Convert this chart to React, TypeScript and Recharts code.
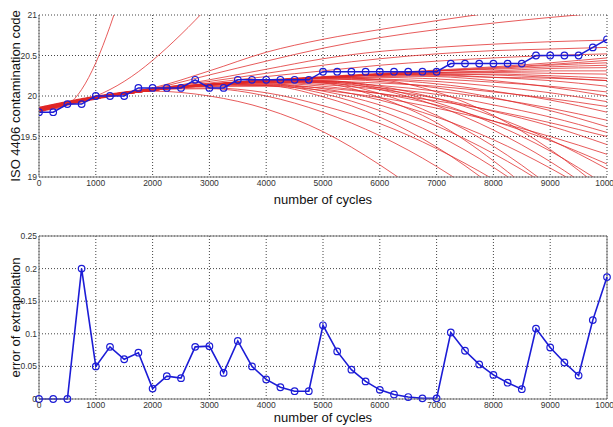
import { CartesianGrid, Label, Line, LineChart, ReferenceLine, XAxis, YAxis } from "recharts";

// measured samples (every 250 cycles)
const cycles = [
  0, 250, 500, 750, 1000, 1250, 1500, 1750, 2000, 2250, 2500, 2750, 3000, 3250, 3500, 3750, 4000, 4250, 4500, 4750,
  5000, 5250, 5500, 5750, 6000, 6250, 6500, 6750, 7000, 7250, 7500, 7750, 8000, 8250, 8500, 8750, 9000, 9250, 9500,
  9750, 10000
];
const isoCode = [
  19.8, 19.8, 19.9, 19.9, 20, 20, 20, 20.1, 20.1, 20.1, 20.1, 20.2, 20.1, 20.1, 20.2, 20.2, 20.2, 20.2, 20.2, 20.2,
  20.3, 20.3, 20.3, 20.3, 20.3, 20.3, 20.3, 20.3, 20.3, 20.4, 20.4, 20.4, 20.4, 20.4, 20.4, 20.5, 20.5, 20.5, 20.5,
  20.6, 20.7
];
const extrapolationError = [
  0, 0, 0, 0.2, 0.05, 0.08, 0.061, 0.071, 0.016, 0.035, 0.032, 0.08, 0.081, 0.04, 0.089, 0.05, 0.03, 0.018, 0.012,
  0.012, 0.113, 0.073, 0.045, 0.027, 0.014, 0.007, 0.003, 0.001, 0.001, 0.102, 0.074, 0.053, 0.037, 0.025, 0.015,
  0.108, 0.079, 0.056, 0.036, 0.121, 0.187
];

// extrapolated fits (red)
const fitCycles = [0, 1000, 2000, 3000, 4000, 5000, 6000, 7000, 8000, 9000, 10000];
const steepCycles = [0, 250, 500, 750, 1000, 1250, 1500, 1750, 2000, 2500, 3000, 3500];

const steepFits = [
  [19.83, 19.84, 19.89, 20.08, 20.41, 20.86, 21.4, 22.0, 22.7, 24.0, 25.5, 27.0],
  [19.84, 19.87, 19.91, 19.95, 20.0, 20.08, 20.18, 20.3, 20.44, 20.76, 21.12, 21.52]
];
const upperFits = [
  [19.84, 19.99, 20.1, 20.31, 20.54, 20.7, 20.82, 20.93, 21.03, 21.12, 21.2],
  [19.83, 19.98, 20.09, 20.26, 20.43, 20.59, 20.72, 20.82, 20.9, 20.97, 21.03],
  [19.82, 19.98, 20.08, 20.2, 20.33, 20.46, 20.55, 20.6, 20.64, 20.67, 20.69],
  [19.84, 19.99, 20.09, 20.18, 20.28, 20.38, 20.46, 20.52, 20.56, 20.58, 20.6],
  [19.83, 19.98, 20.08, 20.16, 20.24, 20.31, 20.38, 20.43, 20.47, 20.5, 20.52]
];
const flatFits = [
  [19.85, 19.99, 20.09, 20.15, 20.2, 20.24, 20.28, 20.32, 20.36, 20.41, 20.47],
  [19.82, 19.97, 20.08, 20.14, 20.19, 20.23, 20.27, 20.31, 20.35, 20.39, 20.44],
  [19.81, 19.97, 20.07, 20.14, 20.19, 20.23, 20.27, 20.31, 20.34, 20.38, 20.41],
  [19.86, 20.0, 20.09, 20.15, 20.19, 20.23, 20.27, 20.31, 20.33, 20.36, 20.38],
  [19.8, 19.96, 20.07, 20.13, 20.18, 20.23, 20.27, 20.29, 20.31, 20.34, 20.35],
  [19.85, 19.99, 20.08, 20.14, 20.19, 20.23, 20.26, 20.29, 20.3, 20.31, 20.31],
  [19.82, 19.97, 20.07, 20.14, 20.19, 20.23, 20.26, 20.28, 20.29, 20.28, 20.27],
  [19.84, 19.98, 20.08, 20.14, 20.19, 20.23, 20.26, 20.27, 20.27, 20.25, 20.22],
  [19.81, 19.97, 20.07, 20.13, 20.18, 20.23, 20.26, 20.27, 20.26, 20.23, 20.19],
  [19.86, 19.99, 20.08, 20.14, 20.19, 20.22, 20.24, 20.25, 20.23, 20.22, 20.19]
];
const lowerFits = [
  [19.83, 19.98, 20.08, 20.14, 20.19, 20.23, 20.26, 20.26, 20.23, 20.19, 20.12],
  [19.84, 19.98, 20.08, 20.14, 20.19, 20.22, 20.23, 20.21, 20.17, 20.12, 20.05],
  [19.82, 19.97, 20.07, 20.14, 20.19, 20.23, 20.25, 20.24, 20.19, 20.11, 20.0],
  [19.85, 19.99, 20.08, 20.14, 20.19, 20.22, 20.21, 20.18, 20.12, 20.04, 19.93],
  [19.81, 19.97, 20.07, 20.14, 20.18, 20.18, 20.16, 20.12, 20.05, 19.97, 19.87],
  [19.84, 19.98, 20.08, 20.14, 20.19, 20.21, 20.2, 20.15, 20.06, 19.95, 19.8],
  [19.83, 19.98, 20.08, 20.14, 20.17, 20.17, 20.13, 20.06, 19.97, 19.85, 19.7],
  [19.82, 19.97, 20.07, 20.14, 20.19, 20.21, 20.18, 20.1, 19.98, 19.82, 19.62],
  [19.85, 19.99, 20.08, 20.14, 20.17, 20.16, 20.1, 20.02, 19.89, 19.74, 19.55],
  [19.83, 19.98, 20.08, 20.12, 20.13, 20.1, 20.03, 19.94, 19.82, 19.67, 19.5],
  [19.82, 19.97, 20.07, 20.14, 20.17, 20.14, 20.08, 19.97, 19.81, 19.63, 19.4],
  [19.84, 19.98, 20.08, 20.12, 20.12, 20.07, 19.98, 19.85, 19.69, 19.5, 19.28],
  [19.81, 19.97, 20.07, 20.14, 20.16, 20.12, 20.03, 19.89, 19.69, 19.45, 19.16],
  [19.85, 19.99, 20.08, 20.14, 20.19, 20.19, 20.12, 19.97, 19.75, 19.46, 19.1]
];
const droppingFits = [
  [19.84, 19.99, 20.06, 20.0, 19.84, 19.56, 19.15, 18.65, 18.1, 17.5, 16.8],
  [19.83, 19.98, 20.08, 20.09, 20.0, 19.8, 19.51, 19.13, 18.65, 18.08, 17.42],
  [19.82, 19.97, 20.07, 20.14, 20.13, 19.99, 19.74, 19.37, 18.88, 18.28, 17.57],
  [19.85, 19.99, 20.08, 20.1, 20.04, 19.88, 19.66, 19.35, 18.97, 18.52, 17.99],
  [19.83, 19.98, 20.08, 20.14, 20.14, 20.03, 19.82, 19.52, 19.12, 18.62, 18.03],
  [19.81, 19.97, 20.07, 20.14, 20.19, 20.16, 19.98, 19.67, 19.2, 18.61, 17.87],
  [19.84, 19.98, 20.08, 20.14, 20.15, 20.06, 19.89, 19.63, 19.29, 18.87, 18.37],
  [19.82, 19.97, 20.07, 20.14, 20.19, 20.17, 20.03, 19.76, 19.38, 18.88, 18.26],
  [19.85, 19.99, 20.08, 20.14, 20.15, 20.09, 19.95, 19.74, 19.46, 19.11, 18.7],
  [19.83, 19.98, 20.08, 20.14, 20.19, 20.18, 20.08, 19.88, 19.58, 19.19, 18.71],
  [19.84, 19.98, 20.08, 20.14, 20.19, 20.23, 20.2, 20.05, 19.76, 19.34, 18.8],
  [19.82, 19.97, 20.07, 20.14, 20.19, 20.19, 20.1, 19.92, 19.66, 19.32, 18.89]
];

const cycleTicks = [0, 1000, 2000, 3000, 4000, 5000, 6000, 7000, 8000, 9000, 10000];
const codeTicks = [19, 19.5, 20, 20.5, 21];
const errorTicks = [0, 0.05, 0.1, 0.15, 0.2, 0.25];

const toPoints = (xs: number[], ys: number[]) => xs.map((x, i) => ({ x, y: ys[i] }));

const measured = toPoints(cycles, isoCode);
const errors = toPoints(cycles, extrapolationError);
const fits = [
  ...steepFits.map((v) => toPoints(steepCycles, v)),
  ...[...upperFits, ...flatFits, ...lowerFits, ...droppingFits].map((v) => toPoints(fitCycles, v))
];

const BLUE = "#1c1cd6";
const RED = "#e02828";
const tickStyle = { fontSize: 8.5, fill: "#333" };

function RotatedTitle(props: any) {
  const { viewBox, value, baseX } = props;
  const cy = viewBox ? viewBox.y + viewBox.height / 2 : 100;
  return (
    <text
      x={baseX}
      y={cy}
      transform={`rotate(-90 ${baseX} ${cy})`}
      textAnchor="middle"
      fontSize={13}
      fill="#111"
    >
      {value}
    </text>
  );
}

export default function App() {
  return (
    <div
      style={{
        position: "absolute",
        left: 0,
        top: 0,
        width: 613,
        height: 427,
        background: "#fff",
        fontFamily: "'Liberation Sans', Arial, sans-serif"
      }}
    >
      <LineChart width={613} height={215} margin={{ top: 15, right: 6, bottom: 0, left: 0 }}>
        <CartesianGrid stroke="#444" strokeDasharray="1 2" />
        <XAxis
          type="number"
          dataKey="x"
          domain={[0, 10000]}
          ticks={cycleTicks}
          allowDataOverflow
          height={38}
          tickLine={false}
          tickSize={3}
          tickMargin={0}
          tick={tickStyle}
          stroke="#777"
          interval={0}
        >
          <Label value="number of cycles" position="insideBottom" offset={11} fontSize={13} fill="#111" />
        </XAxis>
        <YAxis
          type="number"
          domain={[19, 21]}
          ticks={codeTicks}
          allowDataOverflow
          width={39}
          tickLine={false}
          tickSize={2}
          tickMargin={0}
          tick={tickStyle}
          stroke="#777"
          interval={0}
          label={<RotatedTitle value="ISO 4406  contamination code" baseX={20} />}
        />
        {fits.map((pts, i) => (
          <Line
            key={`fit-${i}`}
            data={pts}
            dataKey="y"
            type="monotone"
            stroke={RED}
            strokeWidth={0.9}
            strokeOpacity={0.85}
            dot={false}
            activeDot={false}
            isAnimationActive={false}
          />
        ))}
        <Line
          data={measured}
          dataKey="y"
          type="linear"
          stroke={BLUE}
          strokeWidth={1.5}
          dot={{ r: 3.3, stroke: BLUE, strokeWidth: 1.2, fill: "none" }}
          activeDot={false}
          isAnimationActive={false}
        />
      </LineChart>

      <LineChart width={613} height={212} margin={{ top: 21, right: 6, bottom: 0, left: 0 }}>
        <CartesianGrid stroke="#444" strokeDasharray="1 2" />
        <XAxis
          type="number"
          dataKey="x"
          domain={[0, 10000]}
          ticks={cycleTicks}
          height={28}
          tickLine={false}
          tickSize={3}
          tickMargin={0}
          tick={tickStyle}
          stroke="#777"
          interval={0}
        >
          <Label value="number of cycles" position="insideBottom" offset={5} fontSize={13} fill="#111" />
        </XAxis>
        <YAxis
          type="number"
          domain={[0, 0.25]}
          ticks={errorTicks}
          width={39}
          tickLine={false}
          tickSize={2}
          tickMargin={0}
          tick={tickStyle}
          stroke="#777"
          interval={0}
          label={<RotatedTitle value="error of extrapolation" baseX={20} />}
        />
        <ReferenceLine y={0.25} stroke="#777" />
        <ReferenceLine x={10000} stroke="#777" />
        <Line
          data={errors}
          dataKey="y"
          type="linear"
          stroke={BLUE}
          strokeWidth={1.6}
          dot={{ r: 3.3, stroke: BLUE, strokeWidth: 1.2, fill: "none" }}
          activeDot={false}
          isAnimationActive={false}
        />
      </LineChart>
    </div>
  );
}
